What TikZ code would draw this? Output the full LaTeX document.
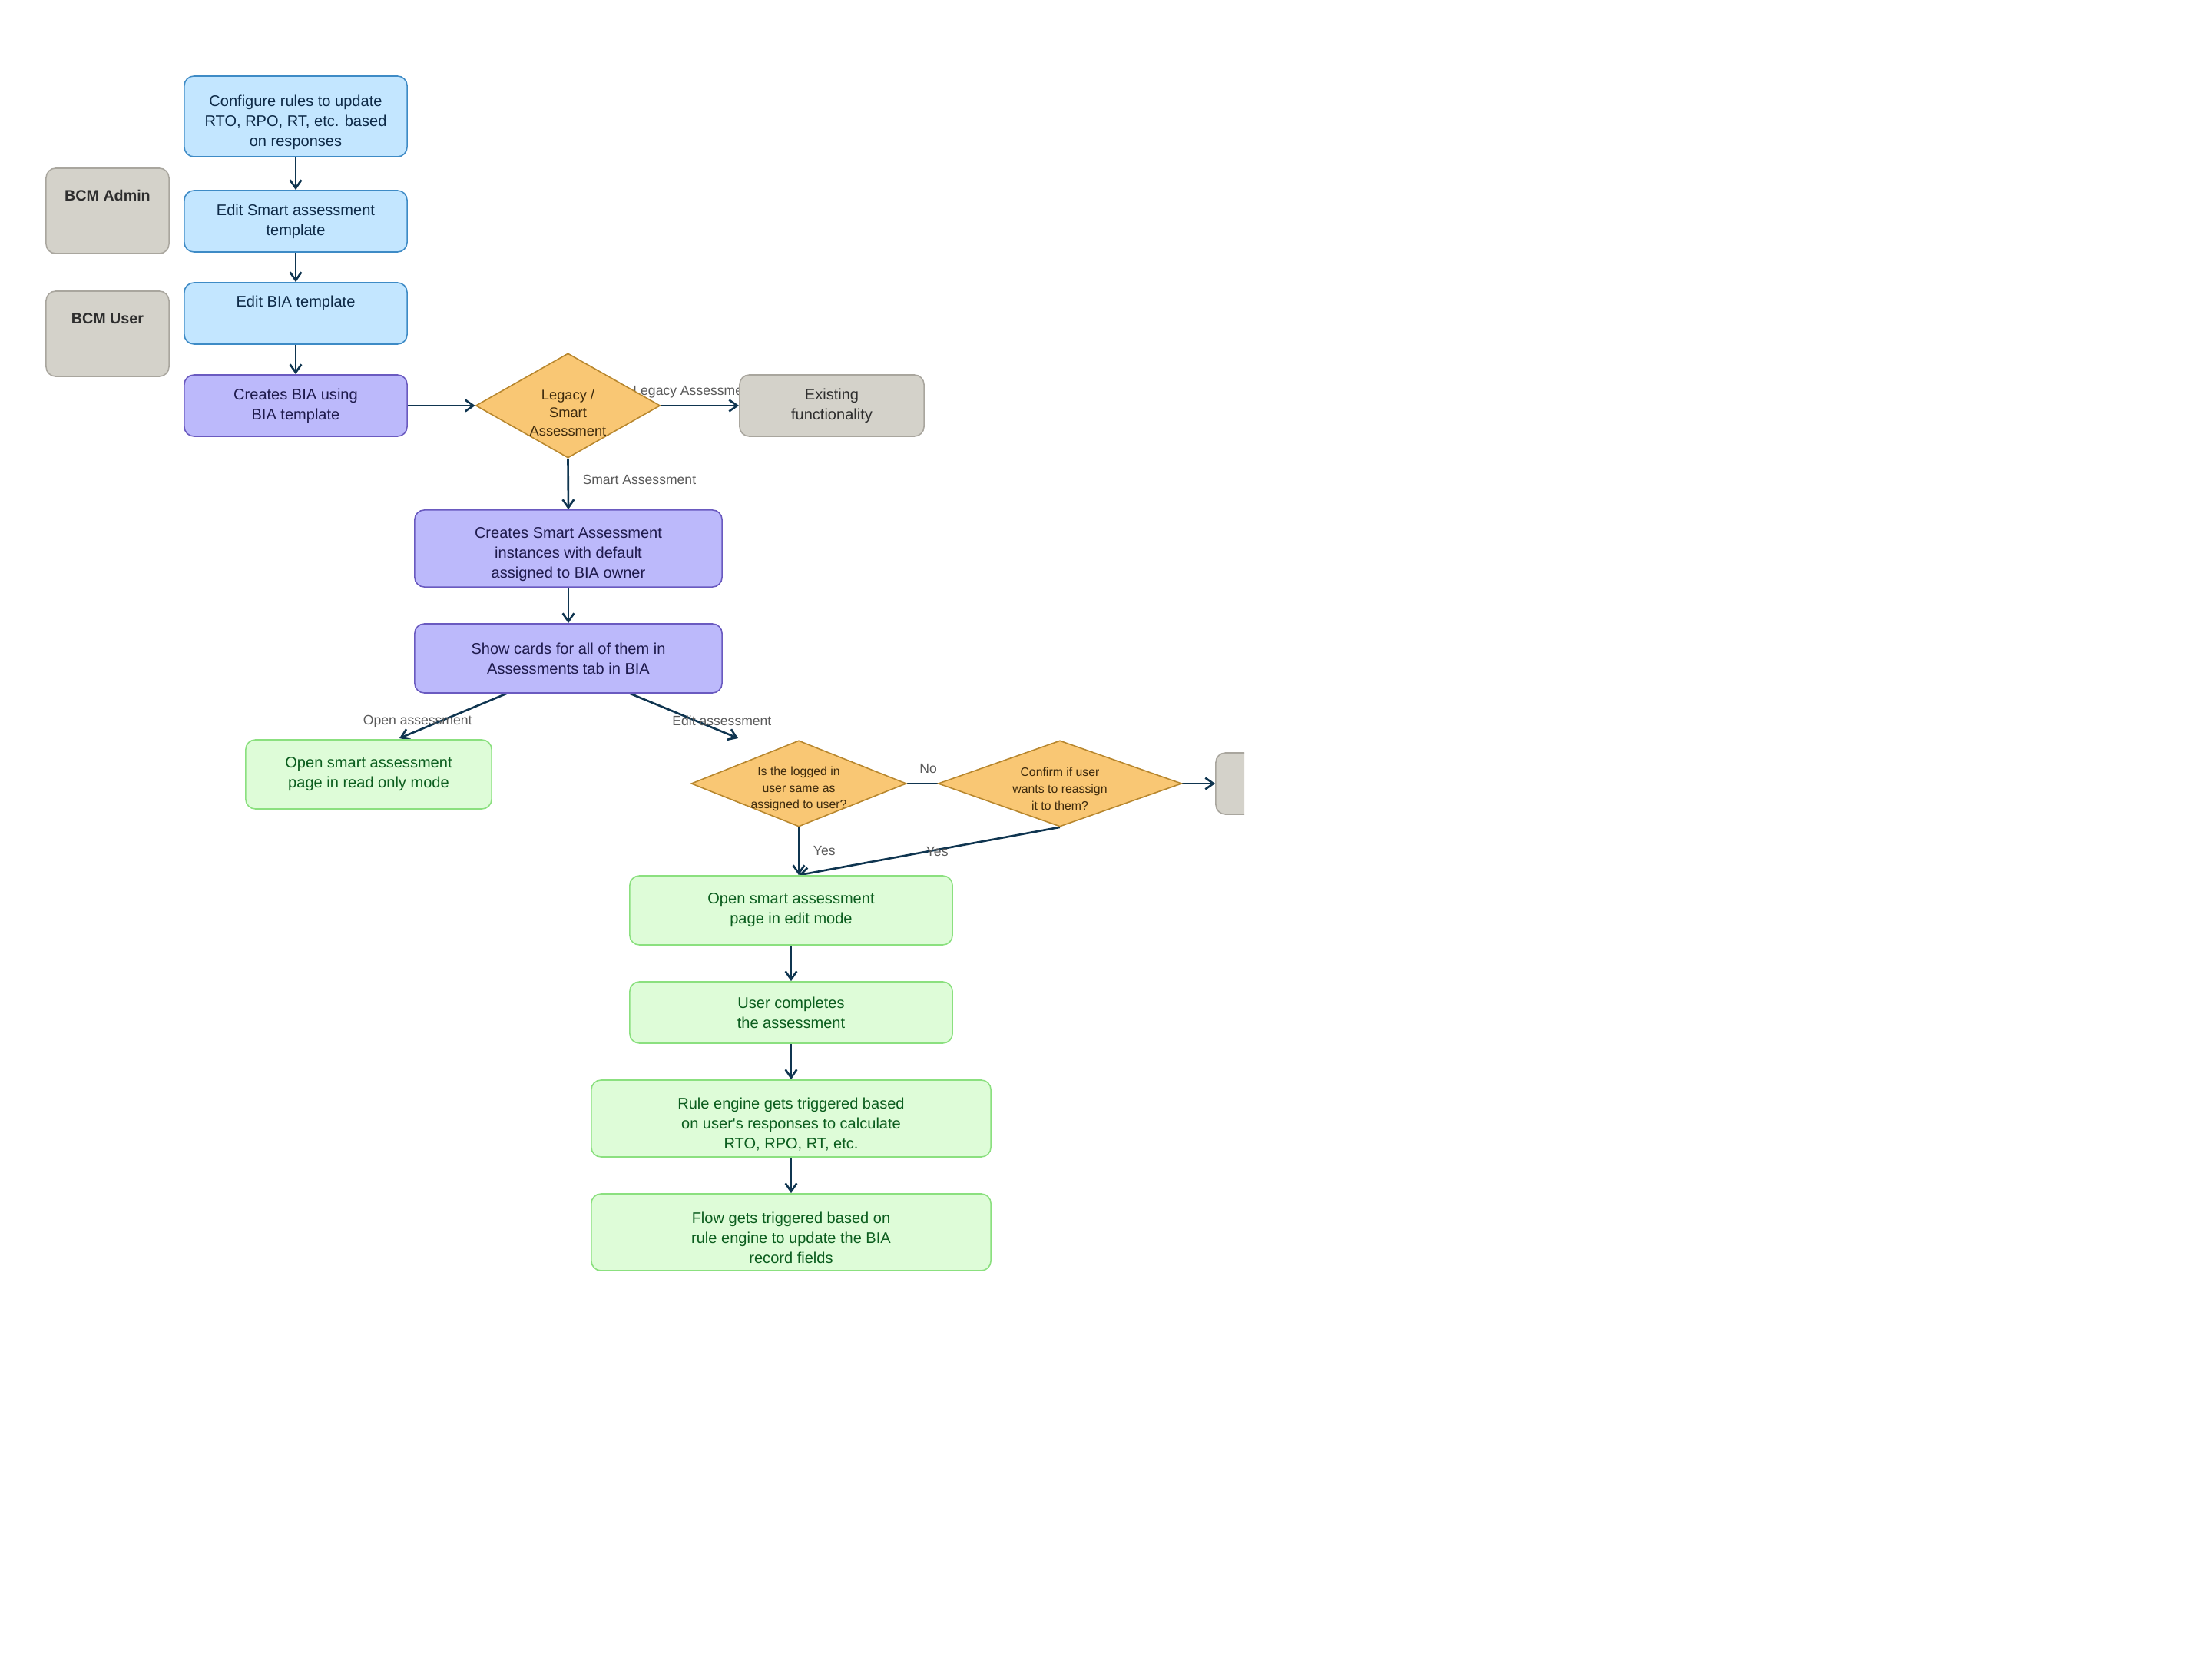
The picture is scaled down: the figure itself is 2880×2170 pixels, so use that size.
\documentclass[tikz,border=0pt]{standalone}
\usepackage{fontspec}
\setmainfont{Liberation Sans}
\usepackage{tikz}
\usetikzlibrary{
	arrows.meta,
	positioning,
	calc,
	shapes.geometric,
	backgrounds
}
\usepackage{xcolor}
\definecolor{bluefill}{HTML}{C3E6FF}
\definecolor{bluedraw}{HTML}{3E8BC6}
\definecolor{bluetext}{HTML}{0E2A47}
\definecolor{purpfill}{HTML}{BCB9FB}
\definecolor{purpdraw}{HTML}{6A5AC0}
\definecolor{purptext}{HTML}{1F1B4D}
\definecolor{greenfill}{HTML}{DEFCD8}
\definecolor{greendraw}{HTML}{8BE07F}
\definecolor{greentext}{HTML}{0B5D1E}
\definecolor{orangefill}{HTML}{F9C774}
\definecolor{orangedraw}{HTML}{B8872E}
\definecolor{orangetext}{HTML}{3D2A0D}
\definecolor{greyfill}{HTML}{D4D2CA}
\definecolor{greydraw}{HTML}{A9A69E}
\definecolor{greytext}{HTML}{2E2E2E}
\definecolor{linecol}{HTML}{0F3550}
\definecolor{lblcol}{HTML}{5A5A5A}
% taller first line, pushes three-line texts down a bit
\newcommand{\dropline}{\rule{0pt}{8.5pt}}

\begin{document}
\begin{tikzpicture}[x=0.01cm,y=-0.01cm,
		>={Straight Barb[length=3pt,width=4.2pt]},
		box/.style={draw,rounded corners=3.6pt,line width=0.45pt,align=center,inner sep=2pt,
			font=\fontsize{5.7}{7.4}\selectfont},
		bluebox/.style={box,fill=bluefill,draw=bluedraw,text=bluetext},
		purpbox/.style={box,fill=purpfill,draw=purpdraw,text=purptext},
		greenbox/.style={box,fill=greenfill,draw=greendraw,text=greentext},
		greybox/.style={box,fill=greyfill,draw=greydraw,text=greytext},
		decision/.style={diamond,draw=orangedraw,fill=orangefill,line width=0.45pt,inner sep=0pt},
		dtext/.style={text=orangetext,align=center,inner sep=0pt,yshift=-2pt,
			font=\fontsize{4.5}{6.2}\selectfont},
		flow/.style={->,draw=linecol,line width=0.75pt},
		lbl/.style={font=\fontsize{5}{6}\selectfont,text=lblcol,inner sep=1pt}
	]
	
	\useasboundingbox (0,0) rectangle (2880,2170);
	
	% Admin and user
	\node[greybox,minimum width=1.6cm,minimum height=1.11cm,font=\fontsize{5.6}{7.4}\selectfont\bfseries]
		(admin) at (140,274.5) {BCM Admin\\[4pt]\mbox{}};
	\node[greybox,minimum width=1.6cm,minimum height=1.11cm,font=\fontsize{5.6}{7.4}\selectfont\bfseries]
		(user) at (140,434.5) {BCM User\\[4pt]\mbox{}};
	
	% Templates
	\node[bluebox,minimum width=2.9cm,minimum height=1.05cm] (rules) at (385,151.5)
		{\dropline Configure rules to update\\RTO, RPO, RT, etc. based\\on responses};
	\node[bluebox,minimum width=2.9cm,minimum height=0.8cm] (satpl) at (385,288)
		{Edit Smart assessment\\template};
	\node[bluebox,minimum width=2.9cm,minimum height=0.8cm] (biatpl) at (385,408)
		{Edit BIA template\\[1.5pt]\mbox{}};
	
	% BIA creation
	\node[purpbox,minimum width=2.9cm,minimum height=0.8cm] (mkbia) at (385,528)
		{Creates BIA using\\BIA template};
	\node[decision,minimum width=2.4cm,minimum height=1.36cm,
		label={[dtext,yshift=-0.6pt,font=\fontsize{5.2}{6.7}\selectfont]center:Legacy /\\Smart\\Assessment}]
		(kind) at (739.5,528) {};
	\node[greybox,minimum width=2.4cm,minimum height=0.8cm] (existing) at (1083,528)
		{Existing\\functionality};
	\node[purpbox,minimum width=4cm,minimum height=1cm] (mksa) at (740,714)
		{\dropline Creates Smart Assessment\\instances with default\\assigned to BIA owner};
	\node[purpbox,minimum width=4cm,minimum height=0.9cm] (cards) at (740,857)
		{Show cards for all of them in\\Assessments tab in BIA};
	
	% Open or edit
	\node[greenbox,minimum width=3.2cm,minimum height=0.9cm] (readonly) at (480,1008)
		{Open smart assessment\\page in read only mode};
	\node[decision,minimum width=2.8cm,minimum height=1.12cm,
		label={[dtext]center:Is the logged in\\user same as\\assigned to user?}]
		(same) at (1040,1020) {};
	\node[decision,minimum width=3.17cm,minimum height=1.12cm,
		label={[dtext]center:Confirm if user\\wants to reassign\\it to them?}]
		(reassign) at (1380,1020) {};
	\begin{scope}
		\clip (0,0) rectangle (1620,2170);
		\node[greybox,minimum width=2.4cm,minimum height=0.8cm] (other) at (1703,1020) {};
	\end{scope}
	
	% Edit flow
	\node[greenbox,minimum width=4.2cm,minimum height=0.9cm] (editmode) at (1030,1185)
		{Open smart assessment\\page in edit mode};
	\node[greenbox,minimum width=4.2cm,minimum height=0.8cm] (complete) at (1030,1318)
		{User completes\\the assessment};
	\node[greenbox,minimum width=5.2cm,minimum height=1cm] (engine) at (1030,1456)
		{\dropline Rule engine gets triggered based\\on user\textquotesingle s responses to calculate\\RTO, RPO, RT, etc.};
	\node[greenbox,minimum width=5.2cm,minimum height=1cm] (update) at (1030,1604)
		{\dropline Flow gets triggered based on\\rule engine to update the BIA\\record fields};
	
	\coordinate (openend) at (520,961);
	\coordinate (editend) at (961,961);
	\coordinate (meet) at (same.south |- editmode.north);
	
	% Connectors
	\begin{pgfonlayer}{background}
		\draw[flow] (rules) -- (satpl);
		\draw[flow] (satpl) -- (biatpl);
		\draw[flow] (biatpl) -- (mkbia);
		\draw[flow] (mkbia) -- (kind);
		\draw[flow] (kind.east) -- node[lbl,pos=0.42,above=1.3pt] {Legacy Assessment} (existing.west);
		\draw[flow] (kind.south) -- node[lbl,pos=0.42,right=4pt] {Smart Assessment} (mksa.north);
		\draw[flow] (mksa) -- (cards);
		\draw[flow] ($(cards.south west)!0.3!(cards.south east)$) -- node[lbl,pos=0.83,above=-0.3pt] {Open assessment} (openend);
		\draw[flow] ($(cards.south west)!0.7!(cards.south east)$) -- node[lbl,pos=0.85,above=0.7pt] {Edit assessment} (editend);
		\draw[draw=linecol,line width=0.75pt] (same.east) -- node[lbl,pos=0.7,above=2.5pt] {No} (reassign.west);
		\draw[flow] (reassign.east) -- (other.west);
		\draw[flow] (same.south) -- node[lbl,midway,right=4pt] {Yes} (meet);
		\draw[flow] (reassign.south) -- node[lbl,pos=0.47,below=-2.5pt] {Yes} (meet);
		\draw[flow] (editmode) -- (complete);
		\draw[flow] (complete) -- (engine);
		\draw[flow] (engine) -- (update);
	\end{pgfonlayer}
	
\end{tikzpicture}
\end{document}
